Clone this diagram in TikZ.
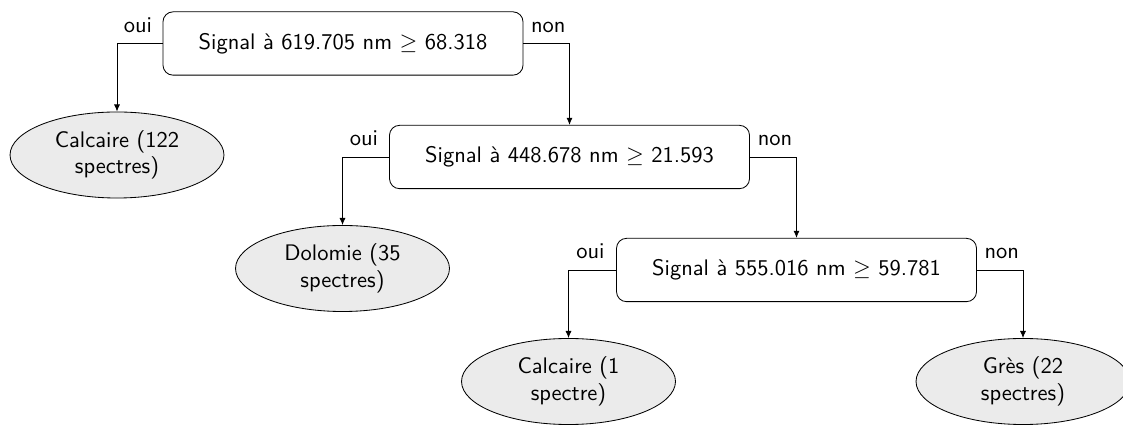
\documentclass[tikz,border=0pt]{standalone}
\usepackage{amsmath,amssymb}
\usepackage{xcolor}
\usepackage{tikz}
\usetikzlibrary{arrows.meta,positioning,shapes.geometric}
\definecolor{leafgray}{rgb}{0.92,0.92,0.92}

\begin{document}
\begin{tikzpicture}[
  x=0.48pt, y=-0.48pt,
  font=\sffamily\fontsize{10.8}{12.6}\selectfont,
  test/.style={rectangle, rounded corners=4.8pt, draw=black, fill=white,
               minimum width=172.8pt, minimum height=30.4pt},
  leaf/.style={ellipse, draw=black, fill=leafgray, align=center,
               minimum width=102.7pt, minimum height=41.3pt, inner sep=0pt},
  arr/.style={-{Latex[length=3.4pt,width=2.9pt]}, draw=black},
  lbl/.style={above, inner sep=5pt},
]
\clip (0,0) rectangle (1123,426);

\node[test] (b1) at (343,43.5) {Signal à 619.705 nm $\geq$ 68.318};
\node[leaf] (e1) at (117,155) {Calcaire (122\\spectres)};
\node[test] (b2) at (569.5,157) {Signal à 448.678 nm $\geq$ 21.593};
\node[leaf] (e2) at (342.5,268.5) {Dolomie (35\\spectres)};
\node[test] (b3) at (796.5,270) {Signal à 555.016 nm $\geq$ 59.781};
\node[leaf] (e3) at (568.5,381.5) {Calcaire (1\\spectre)};
\node[leaf] (e4) at (1023,381.5) {Grès (22\\spectres)};

\draw[arr] (b1.west) -| node[lbl,pos=0.27]{oui} (e1.north);
\draw[arr] (b1.east) -| node[lbl,pos=0.27]{non} (b2.north);
\draw[arr] (b2.west) -| node[lbl,pos=0.27]{oui} (e2.north);
\draw[arr] (b2.east) -| node[lbl,pos=0.27]{non} (b3.north);
\draw[arr] (b3.west) -| node[lbl,pos=0.27]{oui} (e3.north);
\draw[arr] (b3.east) -| node[lbl,pos=0.27]{non} (e4.north);
\end{tikzpicture}
\end{document}
